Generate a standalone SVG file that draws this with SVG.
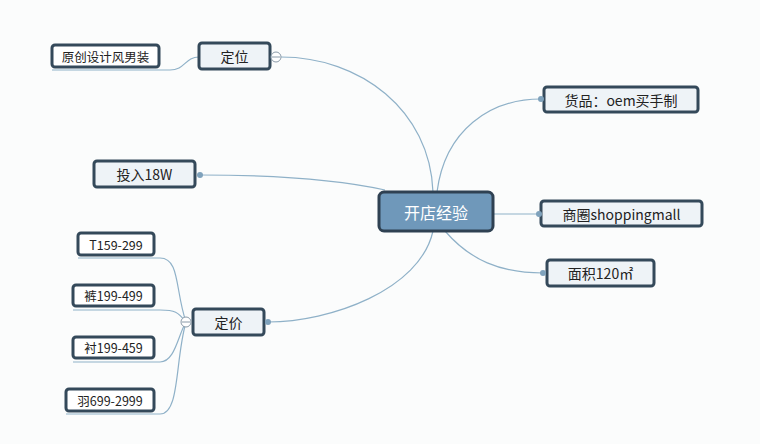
<svg xmlns="http://www.w3.org/2000/svg" width="760" height="444" viewBox="0 0 760 444">
<style>
.bg{fill:#fbfcfc}
.c{fill:none;stroke:#8fb1c8;stroke-width:1.2}
.n{fill:#eef3f7;stroke:#34495a;stroke-width:3}
.l{fill:#ffffff;stroke:#34495a;stroke-width:3}
.root{fill:#6f98ba;stroke:#2f4152;stroke-width:3}
.t{font-family:"Noto Sans CJK SC","Liberation Sans",sans-serif;font-size:14px;fill:#222;text-anchor:middle;dominant-baseline:central}
.tl{font-size:12.5px}
.tr{font-size:16px;fill:#ffffff}
.dot{fill:#7fa2bc}
.col{fill:#ffffff;stroke:#8a9aa8;stroke-width:1}
.cl{stroke:#8a9aa8;stroke-width:1}
</style>
<rect class="bg" x="0" y="0" width="760" height="444"/>
<g id="connectors">
<path class="c" d="M433,192 C430,110 360,57 281,57"/>
<path class="c" d="M437,192 C445,130 490,99 541,99"/>
<path class="c" d="M385,190 C330,178 260,175 200,175"/>
<path class="c" d="M493,214 L539,214"/>
<path class="c" d="M445,231 C470,260 500,273 543,273"/>
<path class="c" d="M433,231 C420,290 330,322 268,322"/>
<path class="c" d="M199,57 C185,57 185,70 170,70 L52,70"/>
<path class="c" d="M186,322 C175,290 180,258 160,258 L78,258"/>
<path class="c" d="M186,322 C178,312 175,310 160,310 L73,310"/>
<path class="c" d="M186,322 C178,335 175,362 160,362 L73,362"/>
<path class="c" d="M186,322 C175,360 180,414 160,414 L66,414"/>
</g>
<g id="root"><rect class="root" x="379" y="192" width="114" height="39" rx="5"/><text class="t tr" x="436" y="212">开店经验</text></g>
<g id="dingwei"><rect class="n" x="199" y="43" width="71" height="26" rx="3"/><text class="t" x="234.5" y="56">定位</text>
<circle class="col" cx="276" cy="57" r="5"/><line class="cl" x1="272" y1="57" x2="280" y2="57"/></g>
<g id="yuanchuang"><rect class="l" x="52" y="45" width="107" height="22" rx="3"/><text class="t tl" x="105.5" y="56">原创设计风男装</text></g>
<g id="huopin"><rect class="n" x="544" y="87" width="154" height="25" rx="3"/><text class="t" x="621" y="99.5">货品：oem买手制</text><circle class="dot" cx="541" cy="99" r="3"/></g>
<g id="shangquan"><rect class="n" x="541" y="201" width="161" height="25" rx="3"/><text class="t" x="621.5" y="213.5">商圈shoppingmall</text><circle class="dot" cx="539" cy="214" r="3"/></g>
<g id="mianji"><rect class="n" x="547" y="260" width="107" height="26" rx="3"/><text class="t" x="600.5" y="273">面积120㎡</text><circle class="dot" cx="543" cy="273" r="3"/></g>
<g id="touru"><rect class="n" x="94" y="161" width="101" height="26" rx="3"/><text class="t" x="144.5" y="174">投入18W</text><circle class="dot" cx="200" cy="175" r="3"/></g>
<g id="dingjia"><rect class="n" x="193" y="309" width="71" height="26" rx="3"/><text class="t" x="228.5" y="322">定价</text><circle class="dot" cx="268" cy="322" r="3"/>
<circle class="col" cx="186" cy="322" r="5"/><line class="cl" x1="182" y1="322" x2="190" y2="322"/></g>
<g id="t159"><rect class="l" x="78" y="233" width="76" height="22" rx="3"/><text class="t tl" x="116" y="244">T159-299</text></g>
<g id="ku199"><rect class="l" x="73" y="285" width="81" height="21" rx="3"/><text class="t tl" x="113.5" y="295.5">裤199-499</text></g>
<g id="chen199"><rect class="l" x="73" y="337" width="81" height="21" rx="3"/><text class="t tl" x="113.5" y="347.5">衬199-459</text></g>
<g id="yu699"><rect class="l" x="66" y="389" width="88" height="22" rx="3"/><text class="t tl" x="110" y="400">羽699-2999</text></g>
</svg>
